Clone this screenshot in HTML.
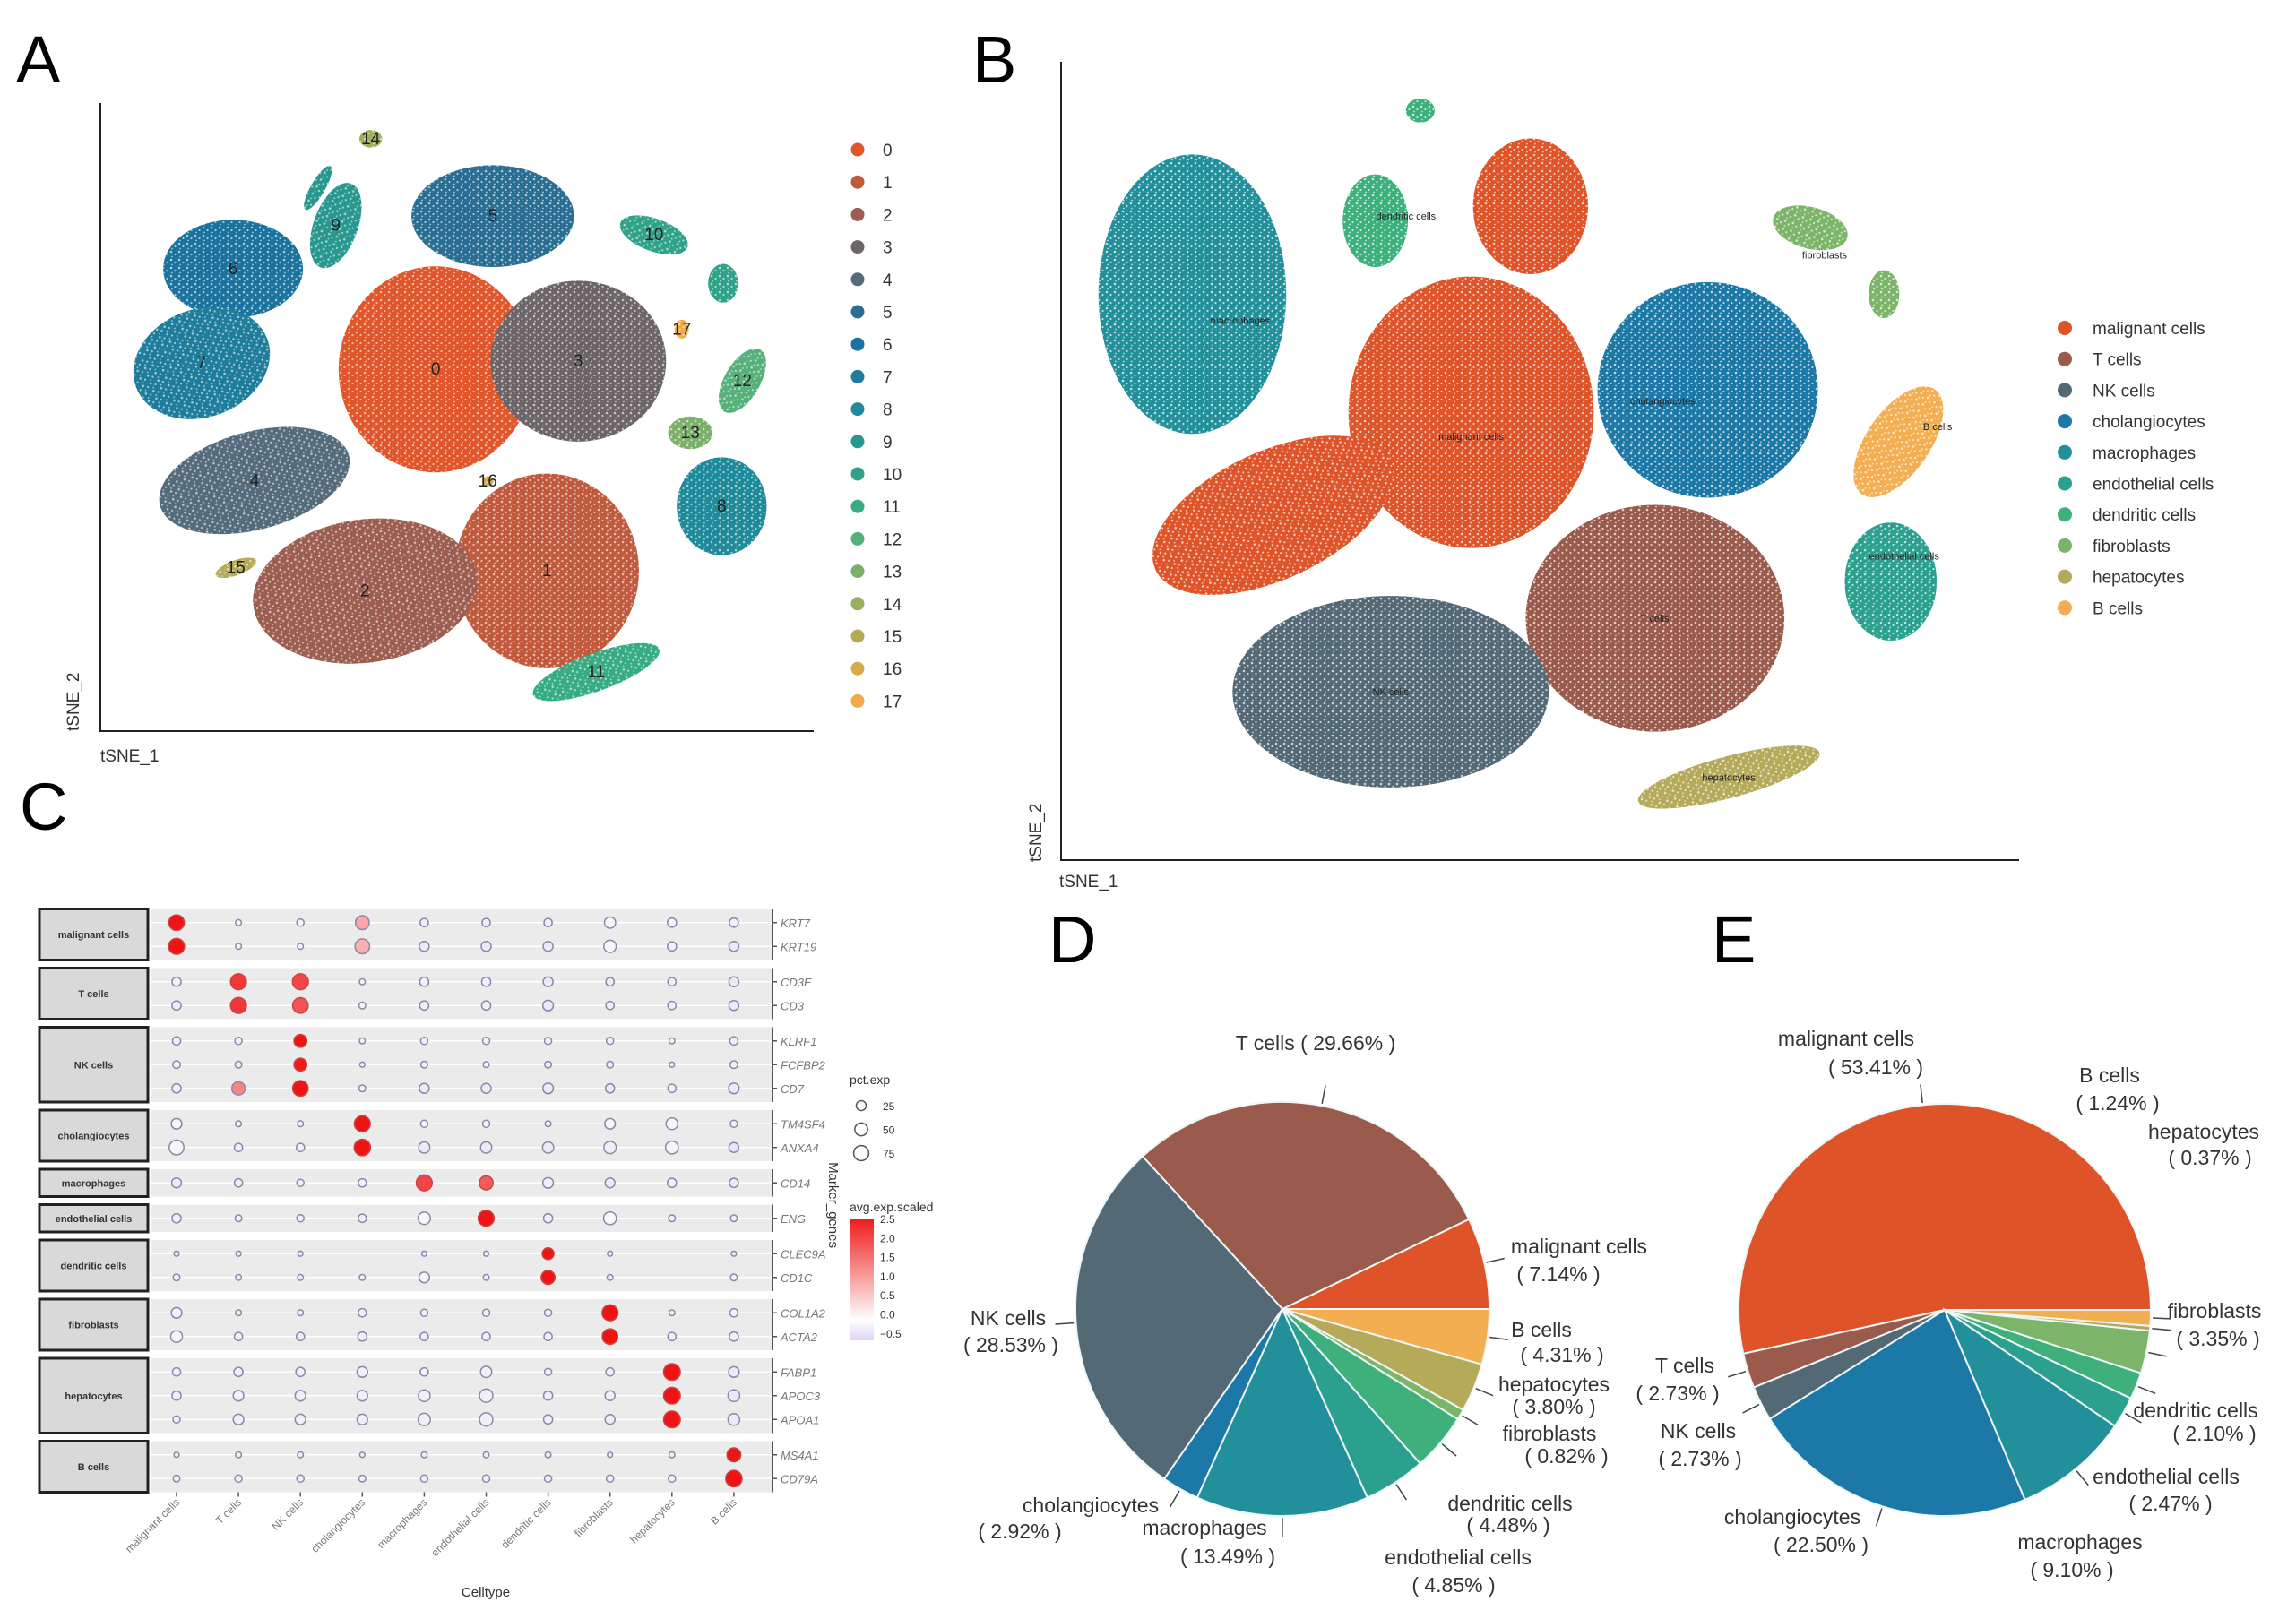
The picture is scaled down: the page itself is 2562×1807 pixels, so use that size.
<!DOCTYPE html>
<html><head><meta charset="utf-8">
<style>
html,body{margin:0;padding:0;background:#fff;}
svg{display:block;font-family:"Liberation Sans",Arial,sans-serif;}
</style></head>
<body>
<svg id="fig" width="2562" height="1807" viewBox="0 0 2562 1807" xmlns="http://www.w3.org/2000/svg">
<defs>
<pattern id="speckle" width="9" height="9" patternUnits="userSpaceOnUse">
<circle cx="2" cy="2" r="1.3" fill="#fff"/><circle cx="6.5" cy="5" r="1.1" fill="#fff"/><circle cx="3" cy="7.5" r="0.9" fill="#fff"/>
</pattern>
<linearGradient id="cbar" x1="0" y1="1" x2="0" y2="0">
<stop offset="0" stop-color="#ddd3f7"/><stop offset="0.167" stop-color="#ffffff"/><stop offset="1" stop-color="#ee1c1c"/>
</linearGradient>
</defs>
<g font-size="74" fill="#000">
<text x="18" y="92">A</text>
<text x="1085" y="92">B</text>
<text x="22" y="926">C</text>
<text x="1170" y="1074">D</text>
<text x="1910" y="1074">E</text>
</g>
<g id="gA"></g>
<g id="gB"></g>
<g id="gC"></g>
<g id="gD"></g>
<g id="gE"></g>
</svg>
<script>
// ---------- Panel A data (tSNE units) ----------
const aClusterIds = ["0","1","2","3","4","5","6","7","8","9","10","11","12","13","14","15","16","17"];
const aColors = ["#E0552A","#C15A3D","#9C5E50","#6C6568","#546B7B","#2B6E93","#1A729F","#1D7D9B","#1F8A99","#27978F","#2FA38A","#37AB83","#55B07A","#7CAF6A","#9CAF5E","#B5AA58","#D2AC4F","#F1A94A"];
const aBlobCluster = [0,1,2,3,4,5,6,7,8,9,10,11,12,13,14,15,16,17,10,9];
const aBlobX  = [-3.0,12.6,-12.9,17.0,-28.4,5.0,-31.4,-35.8,37.1,-17.0,27.6,19.5,40.0,32.7,-12.1,-31.0,4.3,31.5,37.3,-19.5];
const aBlobY  = [7.6,-24.5,-27.7,8.9,-10.1,32.0,23.6,8.6,-14.2,30.5,29.0,-40.6,5.8,-2.5,44.3,-24.0,-10.2,14.0,21.3,36.5];
const aBlobSX = [13.6,12.9,15.8,12.3,13.7,11.4,9.8,9.8,6.3,3.1,5.0,9.4,2.5,3.1,1.6,3.0,0.8,1.0,2.1,1.0];
const aBlobSY = [16.4,15.5,11.4,12.8,7.8,8.1,7.8,8.6,7.8,7.1,2.6,3.0,5.7,2.6,1.4,1.2,0.8,1.5,3.1,4.0];
const aBlobTilt=[0,0,-8,0,-15,0,0,-20,0,20,20,-20,30,0,0,-20,0,0,0,30];
// ---------- Panel B data ----------
const bTypes = ["malignant cells","T cells","NK cells","cholangiocytes","macrophages","endothelial cells","dendritic cells","fibroblasts","hepatocytes","B cells"];
const typeColors = ["#DE5327","#9A5B4C","#536A76","#1C78A6","#22909A","#2CA08E","#3DB07C","#7CB56A","#B5AA5A","#F4AE52"];
const bBlobType = [0,0,0,3,4,1,2,8,9,5,7,7,6,6];
const bBlobX  = [-7.2,-1.0,-27.9,17.5,-36.3,12.0,-15.6,19.7,37.4,36.6,28.2,35.9,-17.2,-12.5];
const bBlobY  = [6.1,31.9,-6.8,8.9,20.9,-19.7,-28.9,-39.6,2.4,-15.1,29.2,20.9,30.1,43.9];
const bBlobSX = [12.8,6.0,13.5,11.5,9.8,13.5,16.5,9.8,3.3,4.8,4.0,1.6,3.4,1.5];
const bBlobSY = [17.0,8.5,8.0,13.5,17.5,14.2,12.0,2.6,8.0,7.4,2.6,3.0,5.8,1.5];
const bBlobTilt=[0,0,-25,0,0,0,0,-15,35,0,15,0,0,0];
const bLabelX = [-7.2,12.0,-15.6,12.8,-31.3,38.0,-14.0,29.7,19.7,41.5];
const bLabelY = [3.1,-19.7,-28.9,7.5,17.6,-11.9,30.7,25.8,-39.6,4.3];
// ---------- Panel C data ----------
const cCelltypes = ["malignant cells","T cells","NK cells","cholangiocytes","macrophages","endothelial cells","dendritic cells","fibroblasts","hepatocytes","B cells"];
const cGroupSizes = [2,2,3,2,1,1,2,2,3,2];
const cGenes = ["KRT7","KRT19","CD3E","CD3","KLRF1","FCFBP2","CD7","TM4SF4","ANXA4","CD14","ENG","CLEC9A","CD1C","COL1A2","ACTA2","FABP1","APOC3","APOA1","MS4A1","CD79A"];
const cPct = [
[80,5,10,60,15,15,15,35,20,20],[85,5,5,70,25,25,25,45,20,25],
[20,85,85,5,20,20,25,15,15,25],[20,85,80,8,20,20,30,15,15,25],
[15,10,50,5,10,10,10,10,5,15],[12,8,50,3,8,5,8,8,3,12],[20,55,80,8,25,25,30,20,15,30],
[30,5,5,85,10,10,5,30,40,10],[70,15,15,90,35,35,35,45,50,25],
[25,15,10,15,85,60,30,25,20,20],
[20,8,10,15,45,85,20,50,8,8],
[3,3,3,0,3,3,40,3,0,3],[8,5,5,5,30,5,60,5,0,8],
[30,5,5,15,10,10,10,85,5,15],[40,15,15,20,15,15,15,80,15,20],
[15,20,20,30,15,35,10,15,95,30],[20,30,30,30,40,55,20,25,95,40],[10,30,30,30,45,55,20,25,95,40],
[3,5,5,3,5,5,5,3,5,60],[8,10,10,8,10,10,10,10,10,90]];
const cAvg = [
[2.5,-0.2,-0.2,0.6,-0.3,-0.3,-0.3,-0.2,-0.2,-0.3],[2.5,-0.2,-0.2,0.5,-0.4,-0.4,-0.4,-0.2,-0.3,-0.4],
[-0.3,2.0,1.8,-0.2,-0.3,-0.3,-0.4,-0.3,-0.3,-0.4],[-0.3,2.0,1.6,-0.2,-0.3,-0.3,-0.4,-0.3,-0.3,-0.4],
[-0.3,-0.3,2.5,-0.2,-0.3,-0.3,-0.3,-0.3,-0.2,-0.3],[-0.3,-0.3,2.4,-0.2,-0.3,-0.2,-0.3,-0.3,-0.2,-0.3],[-0.3,1.0,2.5,-0.3,-0.4,-0.4,-0.4,-0.4,-0.3,-0.4],
[-0.2,-0.2,-0.2,2.5,-0.2,-0.2,-0.2,-0.2,-0.2,-0.3],[-0.2,-0.3,-0.3,2.5,-0.4,-0.4,-0.4,-0.3,-0.2,-0.5],
[-0.4,-0.3,-0.3,-0.3,1.8,1.5,-0.3,-0.4,-0.3,-0.4],
[-0.3,-0.3,-0.3,-0.3,-0.1,2.5,-0.3,-0.1,-0.3,-0.3],
[-0.3,-0.3,-0.3,0,-0.3,-0.3,2.5,-0.3,0,-0.3],[-0.3,-0.3,-0.3,-0.3,-0.2,-0.3,2.5,-0.3,0,-0.3],
[-0.3,-0.3,-0.3,-0.3,-0.3,-0.3,-0.3,2.5,-0.3,-0.3],[-0.2,-0.3,-0.3,-0.3,-0.3,-0.3,-0.3,2.5,-0.3,-0.3],
[-0.3,-0.3,-0.3,-0.3,-0.3,-0.3,-0.3,-0.3,2.5,-0.4],[-0.3,-0.3,-0.3,-0.3,-0.3,-0.3,-0.3,-0.3,2.5,-0.4],[-0.3,-0.3,-0.3,-0.3,-0.3,-0.3,-0.3,-0.3,2.5,-0.4],
[-0.3,-0.3,-0.3,-0.3,-0.3,-0.3,-0.3,-0.3,-0.3,2.5],[-0.3,-0.3,-0.3,-0.3,-0.3,-0.3,-0.3,-0.3,-0.3,2.5]];
const cColorTicks = ["2.5","2.0","1.5","1.0","0.5","0.0","−0.5"];
const cSizeTicks = [25,50,75];
// ---------- Pie data ----------
const pieD = [7.14,29.66,28.53,2.92,13.49,4.85,4.48,0.82,3.80,4.31];
const pieE = [53.41,2.73,2.73,22.50,9.10,2.47,2.10,3.35,0.37,1.24];

const NS="http://www.w3.org/2000/svg";
function mk(parent,tag,attrs,txt){const e=document.createElementNS(NS,tag);for(const k in attrs)e.setAttribute(k,attrs[k]);if(txt!==undefined)e.textContent=txt;parent.appendChild(e);return e;}
function lin(d0,d1,r0,r1){return v=>r0+(v-d0)/(d1-d0)*(r1-r0);}

// ===== Panel A =====
(function(){
const g=document.getElementById('gA');
const x=lin(-50,50,112,908), y=lin(-50,50,816,115);
const kx=(908-112)/100, ky=(816-115)/100;
let l=mk(g,'line',{x1:112,y1:115,x2:112,y2:816,stroke:'#222','stroke-width':2});

l=mk(g,'line',{x1:111,y1:816,x2:908,y2:816,stroke:'#222','stroke-width':2});

let t=mk(g,'text',{x:112,y:850,'font-size':19,fill:'#333'},'tSNE_1');

t=mk(g,'text',{x:0,y:0,'font-size':19,fill:'#333',transform:'translate(88,816) rotate(-90)'},'tSNE_2');

aBlobCluster.forEach((c,i)=>{
  const cx=x(aBlobX[i]),cy=y(aBlobY[i]),rx=aBlobSX[i]*kx,ry=aBlobSY[i]*ky;
  const tr='rotate('+aBlobTilt[i]+' '+cx+' '+cy+')';
  const e=mk(g,'ellipse',{cx:cx,cy:cy,rx:rx,ry:ry,fill:aColors[c],transform:tr});
  
  
  const s=mk(g,'ellipse',{cx:cx,cy:cy,rx:rx,ry:ry,fill:'url(#speckle)',opacity:0.6,transform:tr});
  
  
});
aClusterIds.forEach((id,c)=>{
  const i=aBlobCluster.indexOf(c);
  const lb=mk(g,'text',{x:x(aBlobX[i]),y:y(aBlobY[i])+6,'font-size':19,fill:'#222','text-anchor':'middle'},id);
  
  
  const ly=167+c*36.2;
  const d=mk(g,'circle',{cx:957,cy:ly,r:7.5,fill:aColors[c]});
  
  
  const lt=mk(g,'text',{x:985,y:ly+7,'font-size':19,fill:'#333'},id);
  
  
});
})();

// ===== Panel B =====
(function(){
const g=document.getElementById('gB');
const x=lin(-50,50,1184,2253), y=lin(-50,50,960,69);
const kx=(2253-1184)/100, ky=(960-69)/100;
let l=mk(g,'line',{x1:1184,y1:69,x2:1184,y2:960,stroke:'#222','stroke-width':2});

l=mk(g,'line',{x1:1183,y1:960,x2:2253,y2:960,stroke:'#222','stroke-width':2});

let t=mk(g,'text',{x:1182,y:990,'font-size':19,fill:'#333'},'tSNE_1');

t=mk(g,'text',{x:0,y:0,'font-size':19,fill:'#333',transform:'translate(1162,962) rotate(-90)'},'tSNE_2');

bBlobType.forEach((c,i)=>{
  const cx=x(bBlobX[i]),cy=y(bBlobY[i]),rx=bBlobSX[i]*kx,ry=bBlobSY[i]*ky;
  const tr='rotate('+bBlobTilt[i]+' '+cx+' '+cy+')';
  const e=mk(g,'ellipse',{cx:cx,cy:cy,rx:rx,ry:ry,fill:typeColors[c],transform:tr});
  
  
  const s=mk(g,'ellipse',{cx:cx,cy:cy,rx:rx,ry:ry,fill:'url(#speckle)',opacity:0.7,transform:tr});
  
  
});
bTypes.forEach((nm,c)=>{
  const lb=mk(g,'text',{x:x(bLabelX[c]),y:y(bLabelY[c])+4,'font-size':11,fill:'#222','text-anchor':'middle'},nm);
  
  
  const ly=366+c*34.7;
  const d=mk(g,'circle',{cx:2304,cy:ly,r:8,fill:typeColors[c]});
  
  
  const lt=mk(g,'text',{x:2335,y:ly+7,'font-size':19,fill:'#333'},nm);
  
  
});
})();

// ===== Panel C =====
(function(){
const g=document.getElementById('gC');
const colX=i=>197+i*69.1;
const top=1014.5, rowH=26.5, gap=9;
function mix(a,b,f){return 'rgb('+a.map((v,i)=>Math.round(v+(b[i]-v)*f)).join(',')+')';}
function avgColor(v){
  if(v<=0){const f=(v+0.5)/0.5;return mix([226,218,248],[248,248,250],Math.max(0,Math.min(1,f+0.3)));}
  const f=Math.min(1,v/2.5);return mix([255,235,235],[238,20,20],Math.pow(f,0.8));
}
const rad=p=>p<=0?0:1.5+Math.sqrt(p)*0.8;
let yCur=top, row=0;
cGroupSizes.forEach((n,gi)=>{
  const y0=yCur, y1=yCur+n*rowH+4;
  const bg=mk(g,'rect',{x:168,y:y0,width:693,height:y1-y0,fill:'#ebebeb'});
  
  
  const bx=mk(g,'rect',{x:44,y:y0,width:121,height:y1-y0,fill:'#d9d9d9',stroke:'#222','stroke-width':3});
  
  
  const bt=mk(g,'text',{x:104.5,y:(y0+y1)/2+4,'font-size':11,'font-weight':'bold',fill:'#333','text-anchor':'middle'},cCelltypes[gi]);
  
  
  const ax=mk(g,'line',{x1:862,y1:y0,x2:862,y2:y1,stroke:'#555','stroke-width':2});
  
  
  for(let k=0;k<n;k++){
    const ry=y0+2+rowH*(k+0.5);
    const gl=mk(g,'line',{x1:168,y1:ry,x2:861,y2:ry,stroke:'#fff','stroke-width':1.5});
    
    
    const tk=mk(g,'line',{x1:862,y1:ry,x2:867,y2:ry,stroke:'#555','stroke-width':1.5});
    
    
    const gt=mk(g,'text',{x:871,y:ry+5,'font-size':13,'font-style':'italic',fill:'#777'},cGenes[row]);
    
    
    for(let c=0;c<10;c++){
      const r=rad(cPct[row][c]); if(!r) continue;
      const d=mk(g,'circle',{cx:colX(c),cy:ry,r:r,fill:avgColor(cAvg[row][c]),stroke:cAvg[row][c]>1?'#c44':'#8a8aa8','stroke-width':1.5});
      
      
    }
    row++;
  }
  yCur=y1+gap;
});
const axisY=yCur-gap;
for(let c=0;c<10;c++){
  const tk=mk(g,'line',{x1:colX(c),y1:axisY,x2:colX(c),y2:axisY+5,stroke:'#555','stroke-width':1.5});
  
  
  const t=mk(g,'text',{x:0,y:0,'font-size':12,fill:'#777','text-anchor':'end',transform:'translate('+(colX(c)+4)+','+(axisY+12)+') rotate(-45)'},cCelltypes[c]);
  
  
}
let t=mk(g,'text',{x:542,y:1782,'font-size':15,fill:'#333','text-anchor':'middle'},'Celltype');

t=mk(g,'text',{x:0,y:0,'font-size':15,fill:'#333','text-anchor':'middle',transform:'translate(925,1345) rotate(90)'},'Marker_genes');

t=mk(g,'text',{x:948,y:1210,'font-size':14,fill:'#333'},'pct.exp');

cSizeTicks.forEach((p,i)=>{
  const cy=1234+i*26.5;
  const c=mk(g,'circle',{cx:961,cy:cy,r:rad(p),fill:'none',stroke:'#555','stroke-width':1.5});
  
  
  const l=mk(g,'text',{x:985,y:cy+5,'font-size':12,fill:'#333'},String(p));
  
  
});
t=mk(g,'text',{x:948,y:1352,'font-size':14,fill:'#333'},'avg.exp.scaled');

const cb=mk(g,'rect',{x:948,y:1360,width:27,height:136,fill:'url(#cbar)'});

cColorTicks.forEach((s,i)=>{
  const l=mk(g,'text',{x:982,y:1365+i*21.3,'font-size':12,fill:'#333'},s);
  
  
});
})();

// ===== Pies =====
function drawPie(gid,vals,cx,cy,r,labels){
  const g=document.getElementById(gid);
  const tot=vals.reduce((a,b)=>a+b,0);
  let a0=0;
  vals.forEach((v,i)=>{
    const a1=a0+v/tot*2*Math.PI;
    const p=(a)=>[cx+r*Math.cos(a),cy-r*Math.sin(a)];
    const s=p(a0),e=p(a1),large=(a1-a0)>Math.PI?1:0;
    const path=mk(g,'path',{d:'M'+cx+','+cy+' L'+s[0]+','+s[1]+' A'+r+','+r+' 0 '+large+' 0 '+e[0]+','+e[1]+' Z',fill:typeColors[i],stroke:'#eef6f6','stroke-width':2});
    
    
    const m=(a0+a1)/2;
    const ln=mk(g,'line',{x1:cx+r*1.01*Math.cos(m),y1:cy-r*1.01*Math.sin(m),x2:cx+r*1.1*Math.cos(m),y2:cy-r*1.1*Math.sin(m),stroke:'#444','stroke-width':1.5});
    
    
    a0=a1;
  });
  labels.forEach((L,i)=>{
    const t1=mk(g,'text',{x:L[0],y:L[1],'font-size':23,fill:'#333','text-anchor':'middle'},L[2]);
    
    
    if(L[3]){const t2=mk(g,'text',{x:L[4],y:L[5],'font-size':23,fill:'#333','text-anchor':'middle'},'( '+L[3]+'% )');
    
    }
  });
}
const f=v=>v.toFixed(2);
drawPie('gD',pieD,1431,1461,231,[
 [1468,1172,'T cells ( '+f(pieD[1])+'% )'],
 [1762,1399,'malignant cells',f(pieD[0]),1739,1430],
 [1125,1479,'NK cells',f(pieD[2]),1128,1509],
 [1720,1492,'B cells',f(pieD[9]),1743,1520],
 [1734,1553,'hepatocytes',f(pieD[8]),1734,1578],
 [1729,1608,'fibroblasts',f(pieD[7]),1748,1633],
 [1685,1686,'dendritic cells',f(pieD[6]),1683,1710],
 [1627,1746,'endothelial cells',f(pieD[5]),1622,1777],
 [1344,1713,'macrophages',f(pieD[4]),1370,1745],
 [1217,1688,'cholangiocytes',f(pieD[3]),1138,1717]]);
drawPie('gE',pieE,2170,1462,230,[
 [2060,1167,'malignant cells',f(pieE[0]),2093,1199],
 [2354,1208,'B cells',f(pieE[9]),2363,1239],
 [2459,1271,'hepatocytes',f(pieE[8]),2466,1300],
 [2471,1471,'fibroblasts',f(pieE[7]),2475,1502],
 [2450,1582,'dendritic cells',f(pieE[6]),2471,1608],
 [2417,1656,'endothelial cells',f(pieE[5]),2422,1686],
 [2321,1729,'macrophages',f(pieE[4]),2312,1760],
 [2000,1701,'cholangiocytes',f(pieE[3]),2032,1732],
 [1880,1532,'T cells',f(pieE[1]),1872,1563],
 [1895,1605,'NK cells',f(pieE[2]),1897,1636]]);
</script>
</body></html>
